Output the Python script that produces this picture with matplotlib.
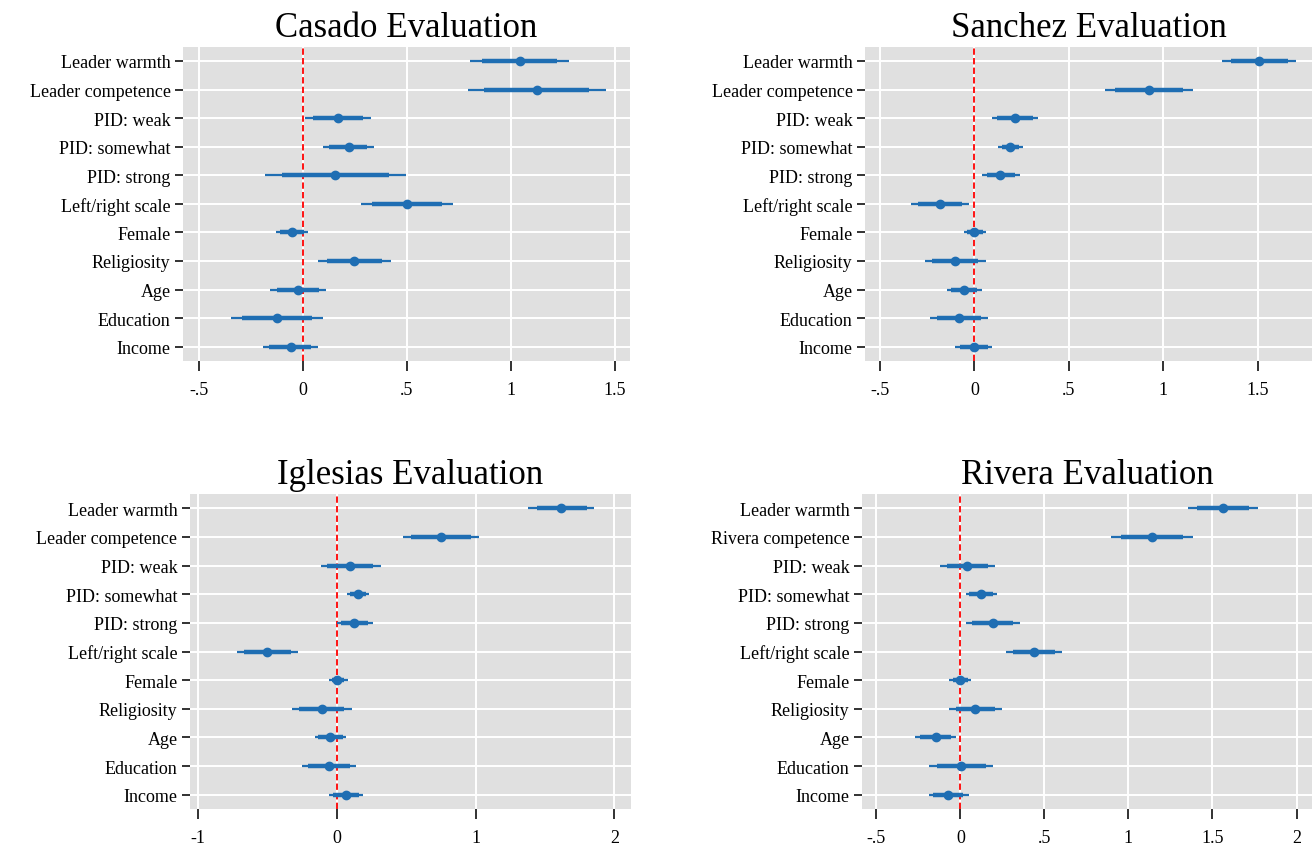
import matplotlib
matplotlib.use('Agg')
import matplotlib.pyplot as plt
import numpy as np

plt.rcParams['font.family'] = ['Liberation Serif', 'DejaVu Serif']

# row labels, top to bottom
labels = ['Leader warmth', 'Leader competence', 'PID: weak', 'PID: somewhat',
          'PID: strong', 'Left/right scale', 'Female', 'Religiosity', 'Age',
          'Education', 'Income']
labels_rivera = ['Leader warmth', 'Rivera competence'] + labels[2:]

# Casado
casado_est = [1.042, 1.125, 0.171, 0.221, 0.157, 0.500, -0.051, 0.248, -0.021, -0.122, -0.058]
casado_in_lo = [0.861, 0.872, 0.048, 0.127, -0.099, 0.332, -0.109, 0.115, -0.122, -0.290, -0.160]
casado_in_hi = [1.224, 1.378, 0.288, 0.311, 0.415, 0.668, 0.008, 0.383, 0.079, 0.046, 0.042]
casado_out_lo = [0.804, 0.793, 0.011, 0.099, -0.179, 0.279, -0.130, 0.074, -0.155, -0.343, -0.192]
casado_out_hi = [1.280, 1.458, 0.327, 0.343, 0.495, 0.721, 0.026, 0.425, 0.112, 0.099, 0.072]

# Sanchez
sanchez_est = [1.509, 0.924, 0.214, 0.191, 0.138, -0.184, 0.000, -0.101, -0.053, -0.083, -0.004]
sanchez_in_lo = [1.359, 0.747, 0.118, 0.145, 0.065, -0.299, -0.037, -0.224, -0.122, -0.200, -0.078]
sanchez_in_hi = [1.661, 1.104, 0.309, 0.239, 0.216, -0.065, 0.044, 0.021, 0.016, 0.035, 0.074]
sanchez_out_lo = [1.314, 0.693, 0.092, 0.127, 0.039, -0.334, -0.053, -0.263, -0.143, -0.237, -0.101]
sanchez_out_hi = [1.705, 1.157, 0.339, 0.258, 0.240, -0.030, 0.060, 0.060, 0.039, 0.072, 0.095]

# Iglesias
iglesias_est = [1.615, 0.750, 0.096, 0.149, 0.125, -0.505, 0.002, -0.111, -0.048, -0.055, 0.063]
iglesias_in_lo = [1.440, 0.534, -0.070, 0.094, 0.029, -0.668, -0.038, -0.274, -0.135, -0.207, -0.031]
iglesias_in_hi = [1.800, 0.964, 0.262, 0.209, 0.224, -0.334, 0.053, 0.053, 0.041, 0.094, 0.161]
iglesias_out_lo = [1.380, 0.474, -0.118, 0.075, 0.000, -0.724, -0.060, -0.325, -0.161, -0.252, -0.060]
iglesias_out_hi = [1.856, 1.026, 0.315, 0.228, 0.257, -0.284, 0.077, 0.106, 0.065, 0.139, 0.190]

# Rivera
rivera_est = [1.562, 1.141, 0.042, 0.121, 0.192, 0.437, 0.000, 0.089, -0.147, 0.004, -0.071]
rivera_in_lo = [1.407, 0.954, -0.081, 0.052, 0.071, 0.312, -0.046, -0.028, -0.240, -0.141, -0.161]
rivera_in_hi = [1.720, 1.327, 0.167, 0.192, 0.313, 0.565, 0.046, 0.208, -0.056, 0.151, 0.018]
rivera_out_lo = [1.357, 0.895, -0.121, 0.032, 0.032, 0.270, -0.065, -0.065, -0.270, -0.185, -0.187]
rivera_out_hi = [1.770, 1.387, 0.206, 0.216, 0.353, 0.605, 0.065, 0.246, -0.026, 0.196, 0.050]

ticks_half = [-0.5, 0, 0.5, 1, 1.5]
ticklabels_half = ['-.5', '0', '.5', '1', '1.5']

BLUE = '#1f6eb3'
BG = '#e0e0e0'


def coef_panel(ax, title, names, est, in_lo, in_hi, out_lo, out_hi,
               xticks, xticklabels, xlim):
    y = np.arange(len(names))
    ax.set_facecolor(BG)
    for s in ax.spines.values():
        s.set_visible(False)
    ax.set_xlim(xlim)
    ax.set_ylim(len(names) - 0.5, -0.5)
    ax.set_xticks(xticks)
    ax.set_xticklabels(xticklabels)
    ax.set_yticks(y)
    ax.set_yticklabels(names)
    ax.grid(True, color='white', linewidth=1.4)
    ax.set_axisbelow(True)
    ax.tick_params(axis='x', length=7.5, width=1.3, color='#222222', pad=7, labelsize=13)
    ax.tick_params(axis='y', length=6, width=1.3, color='#222222', pad=3, labelsize=13)
    ax.axvline(0, color='red', linestyle=(0, (3.5, 1.8)), linewidth=1.3, zorder=2)
    ax.hlines(y, out_lo, out_hi, color=BLUE, linewidth=1.6, zorder=3)
    ax.hlines(y, in_lo, in_hi, color=BLUE, linewidth=3.2, zorder=3)
    ax.plot(est, y, 'o', color=BLUE, markersize=6, zorder=4)
    ax.set_title(title, fontsize=25, pad=8)


fig = plt.figure(figsize=(13.12, 8.45), dpi=100)
ax1 = fig.add_axes([0.1395, 0.5716, 0.3407, 0.372])
ax2 = fig.add_axes([0.6593, 0.5716, 0.3407, 0.372])
ax3 = fig.add_axes([0.1448, 0.0414, 0.336, 0.3728])
ax4 = fig.add_axes([0.657, 0.0414, 0.343, 0.3728])

coef_panel(ax1, 'Casado Evaluation', labels, casado_est, casado_in_lo, casado_in_hi,
           casado_out_lo, casado_out_hi, ticks_half, ticklabels_half, (-0.575, 1.573))
coef_panel(ax2, 'Sanchez Evaluation', labels, sanchez_est, sanchez_in_lo, sanchez_in_hi,
           sanchez_out_lo, sanchez_out_hi, ticks_half, ticklabels_half, (-0.579, 1.788))
coef_panel(ax3, 'Iglesias Evaluation', labels, iglesias_est, iglesias_in_lo, iglesias_in_hi,
           iglesias_out_lo, iglesias_out_hi, [-1, 0, 1, 2], ['-1', '0', '1', '2'], (-1.06, 2.118))
coef_panel(ax4, 'Rivera Evaluation', labels_rivera, rivera_est, rivera_in_lo, rivera_in_hi,
           rivera_out_lo, rivera_out_hi, ticks_half + [2], ticklabels_half + ['2'], (-0.585, 2.092))

fig.savefig('out.png', dpi=100)
